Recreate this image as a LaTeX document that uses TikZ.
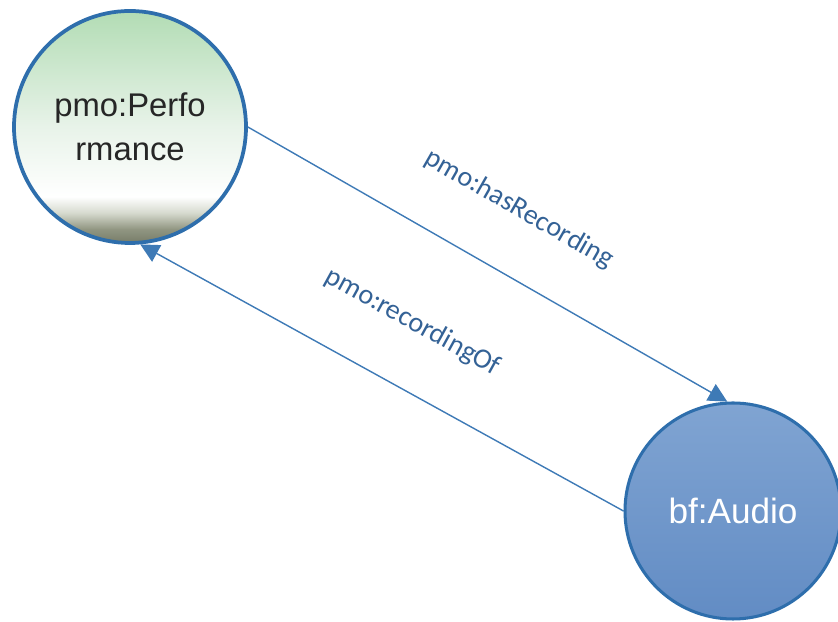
\documentclass[tikz,border=0pt]{standalone}
\usepackage{fontspec}
\setmainfont{Liberation Sans}
\newfontfamily\edgefont{Carlito}
\usepackage{tikz}
\usetikzlibrary{arrows.meta,positioning}
\usepackage{xcolor}
\definecolor{ringblue}{RGB}{46,110,172}
\definecolor{linkblue}{RGB}{62,122,182}
\definecolor{labelblue}{RGB}{52,98,150}
\definecolor{perftop}{RGB}{178,220,180}
\definecolor{perfpale}{RGB}{232,243,233}
\definecolor{perflight}{RGB}{214,218,206}
\definecolor{perfgray}{RGB}{145,150,130}
\definecolor{perfdark}{RGB}{118,124,104}
\definecolor{audiotop}{RGB}{128,164,210}
\definecolor{audiobottom}{RGB}{98,140,196}

% Shading of the performance ball: green top, white middle, dark rim at the bottom.
\pgfdeclareverticalshading{perfshade}{100bp}{
  color(0bp)=(perfdark); color(25bp)=(perfdark); color(28bp)=(perfgray);
  color(31.5bp)=(perflight); color(35bp)=(white); color(50bp)=(perfpale);
  color(75bp)=(perftop); color(100bp)=(perftop)}

\begin{document}
\begin{tikzpicture}[scale=1]
	% Fix the page to the size of the drawing.
	\useasboundingbox (0,0) rectangle (25.14,18.66);

	\tikzstyle{class node}=[circle, draw=ringblue, align=center,
	    font=\fontsize{28}{38}\selectfont]
	\tikzstyle{link}=[draw=linkblue, line width=1.2pt,
	    arrows={-Triangle[length=16pt, width=16pt]}]
	\tikzstyle{link text}=[sloped, above=1.4cm, text=labelblue,
	    font=\edgefont\fontsize{24}{28}\selectfont]

	% The two classes.
	\node (perf) at (3.9,14.85) [class node, line width=3.2pt,
	    minimum size=6.96cm, shading=perfshade, text=black!85]
	    {pmo:Perfo\\rmance};
	\node (audio) at (21.99,3.33) [class node, line width=2.6pt,
	    minimum size=6.48cm, top color=audiotop, bottom color=audiobottom,
	    text=white, font=\fontsize{30}{36}\selectfont] {bf:Audio};

	% The two properties between them.
	\draw [link] (perf.east) -- (audio.93)
	    node [link text, pos=0.5] (hasrec) {pmo:hasRecording};
	\draw [link, arrows={Triangle[length=16pt, width=16pt]-}] (perf.-85) -- (audio.west)
	    node [link text, pos=0.5] (recof) {pmo:recordingOf};
\end{tikzpicture}
\end{document}
